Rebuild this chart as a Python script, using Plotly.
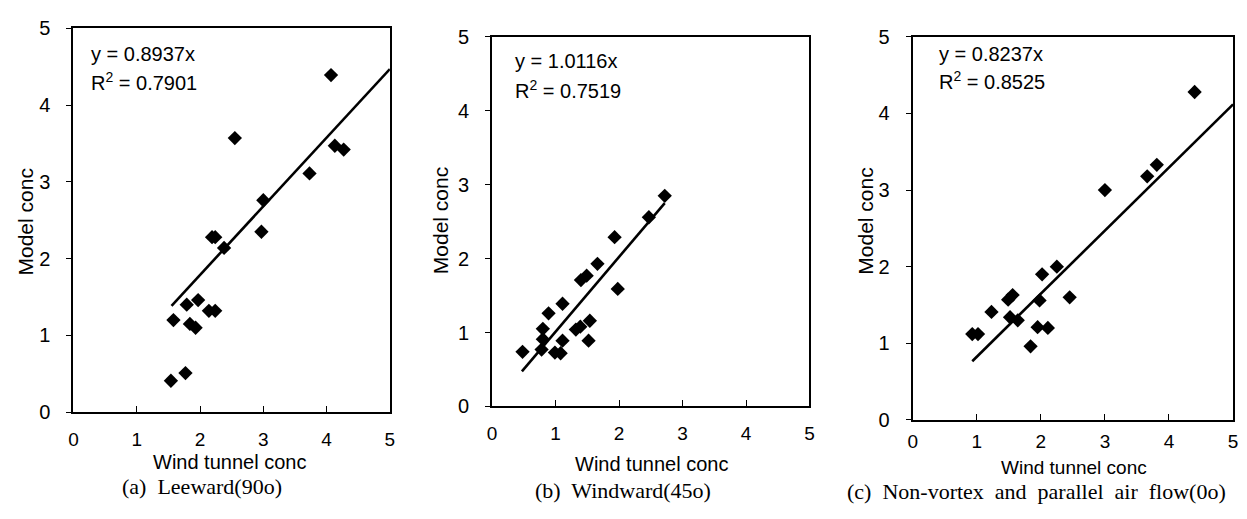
import plotly.graph_objects as go

W, H = 1247, 519

# ---------------- data ----------------
a_x = [4.07, 2.55, 4.13, 4.27, 3.73, 3.00, 2.97, 2.19, 2.24, 2.38, 1.58, 1.79, 1.97, 2.14, 2.24, 1.84, 1.93, 1.54, 1.77]
a_y = [4.39, 3.57, 3.47, 3.42, 3.11, 2.76, 2.35, 2.28, 2.28, 2.14, 1.20, 1.40, 1.46, 1.32, 1.32, 1.15, 1.10, 0.41, 0.51]

b_x = [2.72, 2.47, 1.93, 1.66, 1.40, 1.49, 1.98, 1.11, 0.89, 0.80, 0.80, 0.78, 0.48, 0.99, 1.08, 1.11, 1.32, 1.39, 1.54, 1.52]
b_y = [2.85, 2.56, 2.29, 1.93, 1.71, 1.77, 1.59, 1.39, 1.26, 1.05, 0.91, 0.77, 0.74, 0.73, 0.72, 0.89, 1.04, 1.08, 1.16, 0.89]

c_x = [4.40, 3.00, 3.66, 3.81, 2.25, 2.02, 2.45, 1.98, 1.56, 1.49, 1.23, 1.52, 1.64, 0.93, 1.02, 1.95, 2.11, 1.84]
c_y = [4.28, 3.00, 3.18, 3.33, 2.00, 1.90, 1.60, 1.56, 1.63, 1.57, 1.41, 1.34, 1.30, 1.12, 1.12, 1.21, 1.20, 0.96]

slopes = [0.8937, 1.0116, 0.8237]
r2 = ["0.7901", "0.7519", "0.8525"]
fit_x_range = [[1.55, 5.0], [0.47, 2.72], [0.93, 5.0]]

captions = ["(a)\u00a0 Leeward(90o)", "(b)\u00a0 Windward(45o)",
            "(c)\u00a0 Non-vortex\u00a0 and\u00a0 parallel\u00a0 air\u00a0 flow(0o)"]
tick_vals = [0, 1, 2, 3, 4, 5]
x_title = "Wind tunnel conc"
y_title = "Model conc"

# ---------------- layout geometry (pixels) ----------------
# panel frames: (left, right, top, bottom)
frames = [(69, 388, 18, 419), (491, 811, 27, 413), (915, 1238, 27, 427)]
xlabel_standoff = [9, 9, 3]
ytitle_pos = [(21, 220), (439, 219), (868, 220)]
xtitle_pos = [(226, 471), (652, 473), (1078, 477)]
caption_pos = [(199, 497, "center"), (623, 501, "center"), (847, 502, "left")]
eq_pos = [(85, 45, 74), (512, 52, 82), (940, 45, 73)]

def px(x):
    return x / W

def py(y):
    return 1 - y / H

SANS = "Liberation Sans, Arial, sans-serif"
SERIF = "Liberation Serif, Times New Roman, serif"

fig = go.Figure()
xs = [a_x, b_x, c_x]
ys = [a_y, b_y, c_y]

layout = dict(
    width=W, height=H,
    margin=dict(l=0, r=0, t=0, b=0),
    paper_bgcolor="white", plot_bgcolor="white",
    showlegend=False,
    annotations=[],
)

for i in range(3):
    sfx = "" if i == 0 else str(i + 1)
    xa, ya = "x" + sfx, "y" + sfx
    fig.add_trace(go.Scatter(
        x=xs[i], y=ys[i], mode="markers", xaxis=xa, yaxis=ya,
        marker=dict(symbol="diamond", size=11, color="black", line=dict(width=0)),
        hoverinfo="x+y"))
    x0, x1 = fit_x_range[i]
    fig.add_trace(go.Scatter(
        x=[x0, x1], y=[slopes[i] * x0, slopes[i] * x1], mode="lines",
        xaxis=xa, yaxis=ya, line=dict(color="black", width=2.6), hoverinfo="skip"))

    l, r, t, b = frames[i]
    layout["xaxis" + sfx] = dict(
        domain=[px(l), px(r)], anchor=ya, range=[0, 5], tickvals=tick_vals,
        showgrid=False, zeroline=False, showline=True, mirror=True,
        linecolor="black", linewidth=2, ticks="inside", ticklen=6, tickwidth=1.2,
        tickcolor="black", tickfont=dict(family=SANS, size=19, color="black"),
        ticklabelstandoff=xlabel_standoff[i], fixedrange=True)
    layout["yaxis" + sfx] = dict(
        domain=[py(b), py(t)], anchor=xa, range=[0, 5], tickvals=tick_vals,
        showgrid=False, zeroline=False, showline=True, mirror=True,
        linecolor="black", linewidth=2, ticks="outside", ticklen=5, tickwidth=1.2,
        tickcolor="black", tickfont=dict(family=SANS, size=20, color="black"),
        ticklabelstandoff=12, fixedrange=True)

    ex, ey1, ey2 = eq_pos[i]
    layout["annotations"].append(dict(
        x=px(ex), y=py(ey1), xref="paper", yref="paper", xanchor="left", yanchor="middle",
        text=f"y = {slopes[i]:.4f}x", showarrow=False,
        font=dict(family=SANS, size=20, color="black")))
    layout["annotations"].append(dict(
        x=px(ex), y=py(ey2), xref="paper", yref="paper", xanchor="left", yanchor="middle",
        text=f"R<sup>2</sup> = {r2[i]}", showarrow=False,
        font=dict(family=SANS, size=20, color="black")))

    yx, yy = ytitle_pos[i]
    layout["annotations"].append(dict(
        x=px(yx), y=py(yy), xref="paper", yref="paper", xanchor="center", yanchor="middle",
        text=y_title, textangle=-90, showarrow=False,
        font=dict(family=SANS, size=21, color="black")))
    tx, ty = xtitle_pos[i]
    layout["annotations"].append(dict(
        x=px(tx), y=py(ty), xref="paper", yref="paper", xanchor="center", yanchor="middle",
        text=x_title, showarrow=False,
        font=dict(family=SANS, size=19 if i == 2 else 20, color="black")))
    cx, cy, anc = caption_pos[i]
    layout["annotations"].append(dict(
        x=px(cx), y=py(cy), xref="paper", yref="paper", xanchor=anc, yanchor="middle",
        text=captions[i], showarrow=False,
        font=dict(family=SERIF, size=22, color="black")))

fig.update_layout(**layout)
fig.write_html("out.html")
